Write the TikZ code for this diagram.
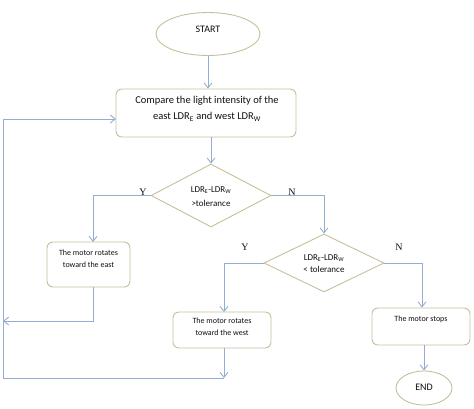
\documentclass[tikz,border=0pt]{standalone}
\usepackage{fontspec}
\setmainfont{Carlito}
\newfontfamily\yn{Liberation Serif}
\usetikzlibrary{shapes.geometric,arrows.meta}
\definecolor{conn}{RGB}{146,174,208}
\definecolor{edge}{RGB}{196,192,156}
\definecolor{txt}{RGB}{15,15,15}
\tikzset{
  arr/.style={draw=conn,line width=0.9pt,-{Straight Barb[length=5pt,width=8pt]}},
  ln/.style={draw=conn,line width=0.9pt},
  rbox/.style={draw=edge,line width=0.9pt,rounded corners=6pt,rectangle,inner sep=0pt},
  ell/.style={draw=edge,line width=0.9pt,ellipse,inner sep=0pt},
  dia/.style={draw=edge,line width=0.9pt,diamond,inner sep=0pt,aspect=2},
  lbl/.style={text=txt,inner sep=0pt,align=center},
  ynl/.style={text=txt,inner sep=0pt,font=\yn\fontsize{10}{10}\selectfont},
}
\begin{document}
\begin{tikzpicture}[x=1pt,y=-1pt]
\useasboundingbox (0,0) rectangle (474,408);
% shapes
\node[ell,minimum width=104pt,minimum height=43pt] (start) at (208,34) {};
\node[lbl,font=\fontsize{10}{10}\selectfont] (startT) at (208,29) {START};
\node[rbox,minimum width=180pt,minimum height=48pt] (cmp) at (206,113) {};
\node[lbl,font=\fontsize{10.5}{16}\selectfont] (cmpT) at (207,109) {Compare the light intensity of the\\east LDR\textsubscript{E} and west LDR\textsubscript{W}};
\node[dia,minimum width=120pt,minimum height=63pt] (d1) at (211,195.5) {};
\node[lbl,font=\fontsize{9}{14}\selectfont] (d1T) at (211,197) {LDR\textsubscript{E}-LDR\textsubscript{W}\\ \textgreater tolerance};
\node[rbox,minimum width=83pt,minimum height=45pt] (east) at (88.5,264.5) {};
\node[lbl,font=\fontsize{8}{11.5}\selectfont] (eastT) at (88.5,258.5) {The motor rotates\\toward the east};
\node[dia,minimum width=120pt,minimum height=58pt] (d2) at (324,263) {};
\node[lbl,font=\fontsize{9}{12}\selectfont] (d2T) at (324,264) {LDR\textsubscript{E}-LDR\textsubscript{W}\\ \textless{} tolerance};
\node[rbox,minimum width=98pt,minimum height=36pt] (west) at (222,330) {};
\node[lbl,font=\fontsize{8}{12}\selectfont] (westT) at (222,327) {The motor rotates\\toward the west};
\node[rbox,minimum width=98pt,minimum height=37pt] (stop) at (421,326.5) {};
\node[lbl,font=\fontsize{8}{8}\selectfont] (stopT) at (421,319) {The motor stops};
\node[ell,minimum width=56pt,minimum height=34pt] (end) at (424,388) {};
\node[lbl,font=\fontsize{10}{10}\selectfont] (endT) at (424,387) {END};
% labels
\node[ynl] (y1) at (143,192) {Y};
\node[ynl] (n1) at (292,192) {N};
\node[ynl] (y2) at (245,247) {Y};
\node[ynl] (n2) at (399,247) {N};
% coordinates
\coordinate (eTop) at (93,242);
\coordinate (eBot) at (93,287);
\coordinate (eJoin) at (3,321);
\coordinate (wTop) at (224,312);
\coordinate (wBot) at (224,348);
\coordinate (wJoin) at (224,378);
\coordinate (lpB) at (3,378);
\coordinate (lpT) at (3,119);
\coordinate (cmpL) at (116,119);
% connectors
\draw[arr] (start.south) -- (start.south |- cmp.north);
\draw[arr] (cmp.south -| d1.north) -- (d1.north);
\draw[arr] (d1.west) -| (eTop);
\draw[arr] (d1.east) -| (d2.north);
\draw[arr] (d2.west) -| (wTop);
\draw[arr] (d2.east) -| (stop.north -| 422,0);
\draw[arr] (stop.south -| end.north) -- (end.north);
\draw[arr] (eBot) |- (eJoin);
\draw[arr] (wBot) -- (wJoin);
\draw[ln] (wJoin) -- (lpB);
\draw[arr] (lpB) -- (lpT) -- (cmpL);
\end{tikzpicture}
\end{document}
